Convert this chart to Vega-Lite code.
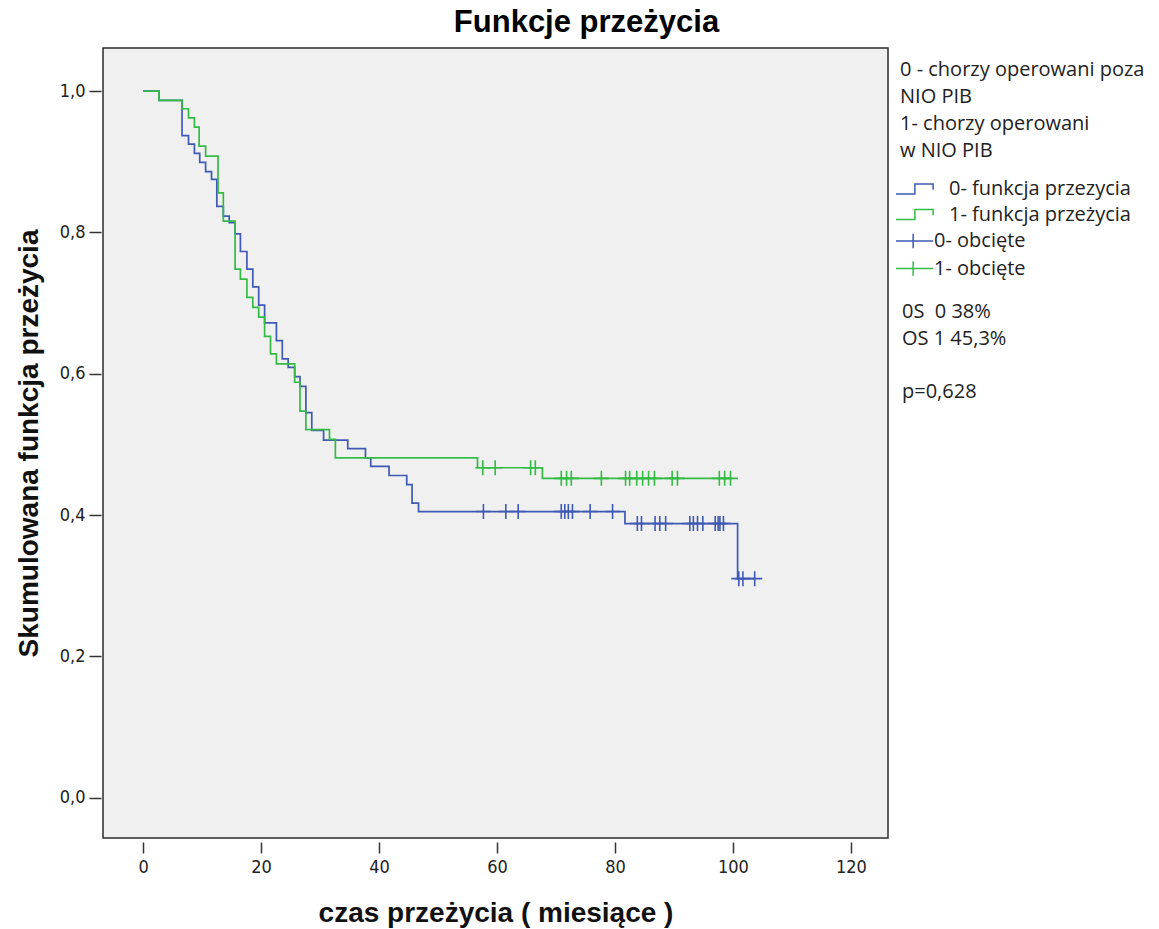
{
  "$schema": "https://vega.github.io/schema/vega-lite/v6.json",
  "width": 785,
  "height": 790,
  "padding": {"left": 15, "top": 7, "right": 5, "bottom": 3},
  "background": "white",
  "title": {"text": "Funkcje przeżycia", "font": "Liberation Sans", "fontSize": 31, "fontWeight": "bold", "color": "#000", "anchor": "middle", "frame": "group", "offset": 6, "dx": 91},
  "datasets": {
    "curves": [
      {"series": "0- funkcja przezycia", "t": 0, "S": 1.0},
      {"series": "0- funkcja przezycia", "t": 2.7, "S": 0.987},
      {"series": "0- funkcja przezycia", "t": 6.6, "S": 0.937},
      {"series": "0- funkcja przezycia", "t": 7.7, "S": 0.925},
      {"series": "0- funkcja przezycia", "t": 8.7, "S": 0.912},
      {"series": "0- funkcja przezycia", "t": 9.6, "S": 0.899},
      {"series": "0- funkcja przezycia", "t": 10.6, "S": 0.886},
      {"series": "0- funkcja przezycia", "t": 11.6, "S": 0.875},
      {"series": "0- funkcja przezycia", "t": 12.5, "S": 0.837},
      {"series": "0- funkcja przezycia", "t": 13.6, "S": 0.823},
      {"series": "0- funkcja przezycia", "t": 14.6, "S": 0.814},
      {"series": "0- funkcja przezycia", "t": 15.6, "S": 0.798},
      {"series": "0- funkcja przezycia", "t": 16.5, "S": 0.773},
      {"series": "0- funkcja przezycia", "t": 17.6, "S": 0.748},
      {"series": "0- funkcja przezycia", "t": 18.6, "S": 0.723},
      {"series": "0- funkcja przezycia", "t": 19.6, "S": 0.697},
      {"series": "0- funkcja przezycia", "t": 20.6, "S": 0.672},
      {"series": "0- funkcja przezycia", "t": 22.6, "S": 0.647},
      {"series": "0- funkcja przezycia", "t": 23.6, "S": 0.621},
      {"series": "0- funkcja przezycia", "t": 24.6, "S": 0.609},
      {"series": "0- funkcja przezycia", "t": 25.7, "S": 0.596},
      {"series": "0- funkcja przezycia", "t": 26.6, "S": 0.582},
      {"series": "0- funkcja przezycia", "t": 27.6, "S": 0.545},
      {"series": "0- funkcja przezycia", "t": 28.6, "S": 0.52},
      {"series": "0- funkcja przezycia", "t": 30.6, "S": 0.506},
      {"series": "0- funkcja przezycia", "t": 34.7, "S": 0.494},
      {"series": "0- funkcja przezycia", "t": 37.7, "S": 0.481},
      {"series": "0- funkcja przezycia", "t": 38.6, "S": 0.469},
      {"series": "0- funkcja przezycia", "t": 41.7, "S": 0.456},
      {"series": "0- funkcja przezycia", "t": 44.7, "S": 0.443},
      {"series": "0- funkcja przezycia", "t": 45.6, "S": 0.417},
      {"series": "0- funkcja przezycia", "t": 46.7, "S": 0.405},
      {"series": "0- funkcja przezycia", "t": 81.7, "S": 0.388},
      {"series": "0- funkcja przezycia", "t": 100.8, "S": 0.31},
      {"series": "0- funkcja przezycia", "t": 103.7, "S": 0.31},
      {"series": "1- funkcja przeżycia", "t": 0, "S": 1.0},
      {"series": "1- funkcja przeżycia", "t": 2.7, "S": 0.987},
      {"series": "1- funkcja przeżycia", "t": 6.6, "S": 0.975},
      {"series": "1- funkcja przeżycia", "t": 7.7, "S": 0.962},
      {"series": "1- funkcja przeżycia", "t": 8.7, "S": 0.949},
      {"series": "1- funkcja przeżycia", "t": 9.5, "S": 0.922},
      {"series": "1- funkcja przeżycia", "t": 10.6, "S": 0.908},
      {"series": "1- funkcja przeżycia", "t": 12.7, "S": 0.856},
      {"series": "1- funkcja przeżycia", "t": 13.6, "S": 0.816},
      {"series": "1- funkcja przeżycia", "t": 15.6, "S": 0.748},
      {"series": "1- funkcja przeżycia", "t": 16.5, "S": 0.734},
      {"series": "1- funkcja przeżycia", "t": 17.6, "S": 0.708},
      {"series": "1- funkcja przeżycia", "t": 18.6, "S": 0.694},
      {"series": "1- funkcja przeżycia", "t": 19.6, "S": 0.68},
      {"series": "1- funkcja przeżycia", "t": 20.6, "S": 0.653},
      {"series": "1- funkcja przeżycia", "t": 21.6, "S": 0.628},
      {"series": "1- funkcja przeżycia", "t": 22.6, "S": 0.614},
      {"series": "1- funkcja przeżycia", "t": 25.7, "S": 0.588},
      {"series": "1- funkcja przeżycia", "t": 26.6, "S": 0.547},
      {"series": "1- funkcja przeżycia", "t": 27.6, "S": 0.521},
      {"series": "1- funkcja przeżycia", "t": 31.6, "S": 0.507},
      {"series": "1- funkcja przeżycia", "t": 32.6, "S": 0.481},
      {"series": "1- funkcja przeżycia", "t": 56.7, "S": 0.467},
      {"series": "1- funkcja przeżycia", "t": 67.7, "S": 0.452},
      {"series": "1- funkcja przeżycia", "t": 99.6, "S": 0.452}
    ],
    "censored": [
      {"series": "0- obcięte", "t": 57.7, "S": 0.405},
      {"series": "0- obcięte", "t": 61.5, "S": 0.405},
      {"series": "0- obcięte", "t": 63.6, "S": 0.405},
      {"series": "0- obcięte", "t": 70.9, "S": 0.405},
      {"series": "0- obcięte", "t": 71.5, "S": 0.405},
      {"series": "0- obcięte", "t": 72.1, "S": 0.405},
      {"series": "0- obcięte", "t": 72.8, "S": 0.405},
      {"series": "0- obcięte", "t": 75.8, "S": 0.405},
      {"series": "0- obcięte", "t": 79.6, "S": 0.405},
      {"series": "0- obcięte", "t": 83.8, "S": 0.388},
      {"series": "0- obcięte", "t": 84.5, "S": 0.388},
      {"series": "0- obcięte", "t": 86.8, "S": 0.388},
      {"series": "0- obcięte", "t": 87.6, "S": 0.388},
      {"series": "0- obcięte", "t": 88.6, "S": 0.388},
      {"series": "0- obcięte", "t": 92.7, "S": 0.388},
      {"series": "0- obcięte", "t": 93.3, "S": 0.388},
      {"series": "0- obcięte", "t": 94.0, "S": 0.388},
      {"series": "0- obcięte", "t": 94.9, "S": 0.388},
      {"series": "0- obcięte", "t": 97.0, "S": 0.388},
      {"series": "0- obcięte", "t": 97.5, "S": 0.388},
      {"series": "0- obcięte", "t": 97.8, "S": 0.388},
      {"series": "0- obcięte", "t": 98.4, "S": 0.388},
      {"series": "0- obcięte", "t": 101.0, "S": 0.31},
      {"series": "0- obcięte", "t": 101.7, "S": 0.31},
      {"series": "0- obcięte", "t": 103.7, "S": 0.31},
      {"series": "1- obcięte", "t": 57.6, "S": 0.467},
      {"series": "1- obcięte", "t": 59.7, "S": 0.467},
      {"series": "1- obcięte", "t": 65.7, "S": 0.467},
      {"series": "1- obcięte", "t": 66.5, "S": 0.467},
      {"series": "1- obcięte", "t": 70.9, "S": 0.452},
      {"series": "1- obcięte", "t": 71.8, "S": 0.452},
      {"series": "1- obcięte", "t": 72.6, "S": 0.452},
      {"series": "1- obcięte", "t": 77.7, "S": 0.452},
      {"series": "1- obcięte", "t": 81.8, "S": 0.452},
      {"series": "1- obcięte", "t": 82.5, "S": 0.452},
      {"series": "1- obcięte", "t": 83.7, "S": 0.452},
      {"series": "1- obcięte", "t": 84.7, "S": 0.452},
      {"series": "1- obcięte", "t": 85.7, "S": 0.452},
      {"series": "1- obcięte", "t": 86.7, "S": 0.452},
      {"series": "1- obcięte", "t": 89.7, "S": 0.452},
      {"series": "1- obcięte", "t": 90.6, "S": 0.452},
      {"series": "1- obcięte", "t": 97.7, "S": 0.452},
      {"series": "1- obcięte", "t": 98.6, "S": 0.452},
      {"series": "1- obcięte", "t": 99.6, "S": 0.452}
    ],
    "notes": [
      {"note": "0S\u00a0\u00a00 38%"},
      {"note": "OS 1 45,3%"},
      {"note": "\u00a0"},
      {"note": "p=0,628"}
    ]
  },
  "encoding": {
    "x": {
      "field": "t", "type": "quantitative",
      "scale": {"domain": [-6.8, 126.3], "nice": false, "zero": false},
      "axis": {"values": [0, 20, 40, 60, 80, 100, 120], "title": "czas przeżycia ( miesiące )", "offset": 4, "tickSize": 11, "labelPadding": 5, "titlePadding": 23}
    },
    "y": {
      "field": "S", "type": "quantitative",
      "scale": {"domain": [-0.057, 1.061], "nice": false, "zero": false},
      "axis": {"values": [0, 0.2, 0.4, 0.6, 0.8, 1.0], "labelExpr": "replace(format(datum.value, '.1f'), '.', ',')", "title": "Skumulowana funkcja przeżycia", "offset": 2, "tickSize": 12, "labelPadding": 4, "titlePadding": 16}
    }
  },
  "layer": [
    {
      "data": {"name": "curves"},
      "mark": {"type": "line", "interpolate": "step-after", "strokeWidth": 1.7},
      "encoding": {
        "color": {"field": "series", "type": "nominal",
          "scale": {"domain": ["0- funkcja przezycia", "1- funkcja przeżycia", "0- obcięte", "1- obcięte"], "range": ["#3f5ab5", "#33bb44", "#3f5ab5", "#33bb44"]},
          "legend": {
            "orient": "none", "legendX": 797, "legendY": 12, "padding": 0,
            "title": ["0 - chorzy operowani poza", "NIO PIB", "1- chorzy operowani", "w NIO PIB"],
            "titleFont": "Open Sans", "titleFontSize": 20, "titleFontWeight": "normal", "titleColor": "#222", "titleLineHeight": 27, "titlePadding": 18, "titleLimit": 400,
            "labelFont": "Open Sans", "labelFontSize": 20, "labelColor": "#222", "labelOffset": 14, "rowPadding": 5.5,
            "symbolSize": 196, "symbolType": "M-2,0H3.3", "labelLimit": 300,
            "encode": {
              "symbols": {
                "update": {
                  "shape": {"signal": "indexof(datum.value, 'funkcja') >= 0 ? 'M-2,0.7H0.7V-0.7H3.3V0.1' : 'M-2,0H3.3M0.45,-1.05V1.05'"},
                  "stroke": {"scale": "color", "field": "value"},
                  "fill": {"value": "transparent"},
                  "strokeWidth": {"value": 1.5},
                  "opacity": {"value": 1}
                }
              },
              "labels": {
                "update": {
                  "dx": {"signal": "indexof(datum.value, 'funkcja') >= 0 ? 15 : 0"}
                }
              }
            }
          }
        }
      }
    },
    {
      "data": {"name": "censored"},
      "mark": {"type": "point", "shape": "M-1,0H1M0,-1V1", "size": 225, "filled": false, "strokeWidth": 1.6, "opacity": 1},
      "encoding": {
        "color": {"field": "series", "type": "nominal",
          "scale": {"domain": ["0- funkcja przezycia", "1- funkcja przeżycia", "0- obcięte", "1- obcięte"], "range": ["#3f5ab5", "#33bb44", "#3f5ab5", "#33bb44"]},
          "legend": {
            "orient": "none", "legendX": 797, "legendY": 12, "padding": 0,
            "title": ["0 - chorzy operowani poza", "NIO PIB", "1- chorzy operowani", "w NIO PIB"],
            "titleFont": "Open Sans", "titleFontSize": 20, "titleFontWeight": "normal", "titleColor": "#222", "titleLineHeight": 27, "titlePadding": 18, "titleLimit": 400,
            "labelFont": "Open Sans", "labelFontSize": 20, "labelColor": "#222", "labelOffset": 14, "rowPadding": 5.5,
            "symbolSize": 196, "symbolType": "M-2,0H3.3", "labelLimit": 300,
            "encode": {
              "symbols": {
                "update": {
                  "shape": {"signal": "indexof(datum.value, 'funkcja') >= 0 ? 'M-2,0.7H0.7V-0.7H3.3V0.1' : 'M-2,0H3.3M0.45,-1.05V1.05'"},
                  "stroke": {"scale": "color", "field": "value"},
                  "fill": {"value": "transparent"},
                  "strokeWidth": {"value": 1.5},
                  "opacity": {"value": 1}
                }
              },
              "labels": {
                "update": {
                  "dx": {"signal": "indexof(datum.value, 'funkcja') >= 0 ? 15 : 0"}
                }
              }
            }
          }
        }
      }
    },
    {
      "data": {"name": "notes"},
      "mark": {"type": "point", "opacity": 0},
      "encoding": {
        "x": {"value": 0},
        "y": {"value": 0},
        "shape": {"field": "note", "type": "nominal",
          "scale": {"domain": ["0S\u00a0\u00a00 38%", "OS 1 45,3%", "\u00a0", "p=0,628"]},
          "legend": {
            "orient": "none", "legendX": 776, "legendY": 254, "padding": 0, "title": null,
            "labelFont": "Open Sans", "labelFontSize": 20, "labelColor": "#222", "labelOffset": 3, "rowPadding": 6.5,
            "symbolSize": 0, "symbolOpacity": 0, "symbolStrokeWidth": 0
          }
        }
      }
    }
  ],
  "config": {
    "view": {"fill": "#f0f0f0", "stroke": "#2b2b2b", "strokeWidth": 1.5},
    "axis": {
      "grid": false, "domain": false, "tickColor": "#333", "tickWidth": 1.5,
      "labelFont": "Liberation Sans Narrow, DejaVu Sans Condensed, sans-serif", "labelFontSize": 18, "labelColor": "#222",
      "titleFont": "Liberation Sans", "titleFontWeight": "bold", "titleFontSize": 28, "titleColor": "#111"
    }
  }
}
